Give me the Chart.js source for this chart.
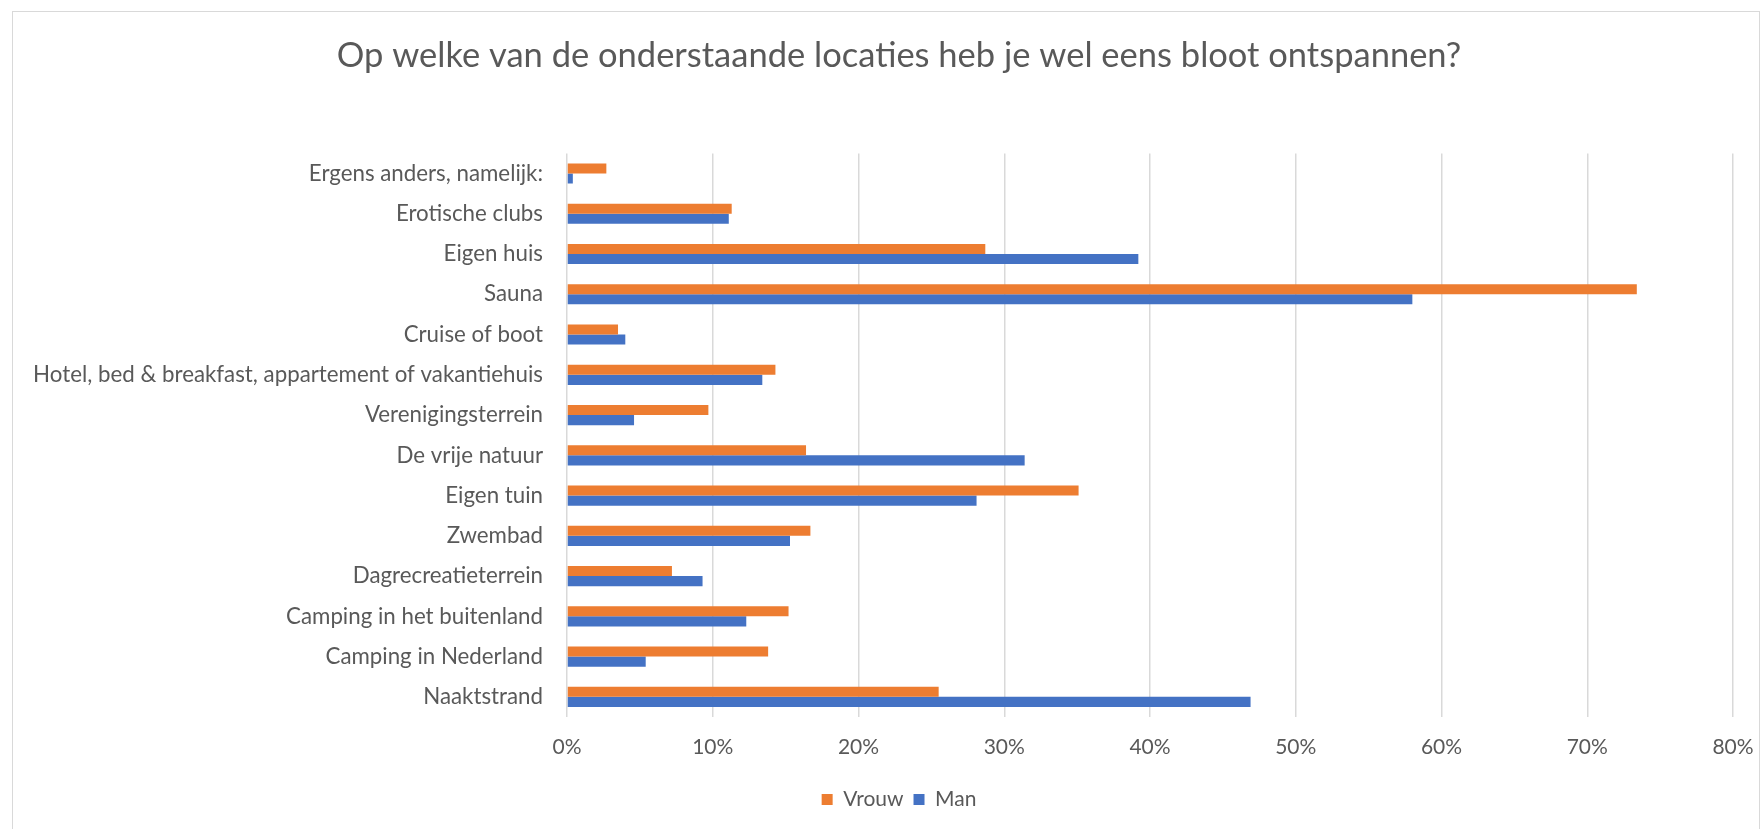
<!DOCTYPE html>
<html>
<head>
<meta charset="utf-8">
<script src="https://cdn.jsdelivr.net/npm/chart.js@4"></script>
<style>
  body { margin: 0; background: #fff; overflow: hidden; }
  #frame {
    position: absolute;
    left: 12px;
    top: 11px;
    width: 1746px;
    height: 830px;
    border: 1px solid #d9d9d9;
    border-bottom: none;
  }
  #chart { position: absolute; left: 0; top: 0; }
</style>
</head>
<body>
<div id="frame">
  <canvas id="chart" width="1750" height="817"></canvas>
</div>
<script>
const labels = [
  "Ergens anders, namelijk:",
  "Erotische clubs",
  "Eigen huis",
  "Sauna",
  "Cruise of boot",
  "Hotel, bed & breakfast, appartement of vakantiehuis",
  "Verenigingsterrein",
  "De vrije natuur",
  "Eigen tuin",
  "Zwembad",
  "Dagrecreatieterrein",
  "Camping in het buitenland",
  "Camping in Nederland",
  "Naaktstrand",
];
const vrouw = [2.7, 11.3, 28.7, 73.4, 3.5, 14.3, 9.7, 16.4, 35.1, 16.7, 7.2, 15.2, 13.8, 25.5];
const man = [0.4, 11.1, 39.2, 58.0, 4.0, 13.4, 4.6, 31.4, 28.1, 15.3, 9.3, 12.3, 5.4, 46.9];
const xTicks = [0, 10, 20, 30, 40, 50, 60, 70, 80];

const textColor = "#595959";
const fontFamily = "Lato, 'Open Sans', sans-serif";

const ctx = document.getElementById("chart").getContext("2d");
window.barChart = new Chart(ctx, {
  type: "bar",
  data: {
    labels: labels,
    datasets: [
      {
        label: "Vrouw",
        data: vrouw,
        backgroundColor: "#ED7D31",
        categoryPercentage: 0.5,
        barPercentage: 1,
      },
      {
        label: "Man",
        data: man,
        backgroundColor: "#4472C4",
        categoryPercentage: 0.5,
        barPercentage: 1,
      },
    ],
  },
  options: {
    indexAxis: "y",
    responsive: false,
    animation: false,
    devicePixelRatio: 1,
    layout: { padding: { left: 52, right: 30, top: 0, bottom: 9 } },
    plugins: {
      title: {
        display: true,
        text: "Op welke van de onderstaande locaties heb je wel eens bloot ontspannen?",
        color: textColor,
        font: { family: fontFamily, size: 34.5, weight: "normal", lineHeight: 1.2 },
        padding: { top: 23, bottom: 77 },
      },
      legend: {
        position: "bottom",
        labels: {
          color: textColor,
          font: { family: fontFamily, size: 21 },
          boxWidth: 11,
          boxHeight: 11,
          padding: 10,
        },
      },
      tooltip: { enabled: false },
    },
    scales: {
      x: {
        min: 0,
        max: 80,
        afterBuildTicks: (scale) => {
          scale.ticks = xTicks.map((v) => ({ value: v }));
        },
        afterFit: (scale) => {
          scale.height = 62;
          scale.paddingRight = 0;
          scale.paddingLeft = 0;
        },
        grid: { color: "#d9d9d9", lineWidth: 1.5, drawTicks: false },
        border: { display: false },
        ticks: {
          color: textColor,
          font: { family: fontFamily, size: 21 },
          padding: 18,
          callback: (value) => value + "%",
        },
      },
      y: {
        afterFit: (scale) => {
          scale.width = 502;
          // lange labels mogen links buiten de as-ruimte vallen
          scale._computeLabelArea = () => undefined;
        },
        grid: { display: false, drawTicks: false },
        border: { display: false },
        ticks: {
          color: textColor,
          font: { family: fontFamily, size: 22.3 },
          padding: 24,
        },
      },
    },
  },
});
</script>
</body>
</html>
